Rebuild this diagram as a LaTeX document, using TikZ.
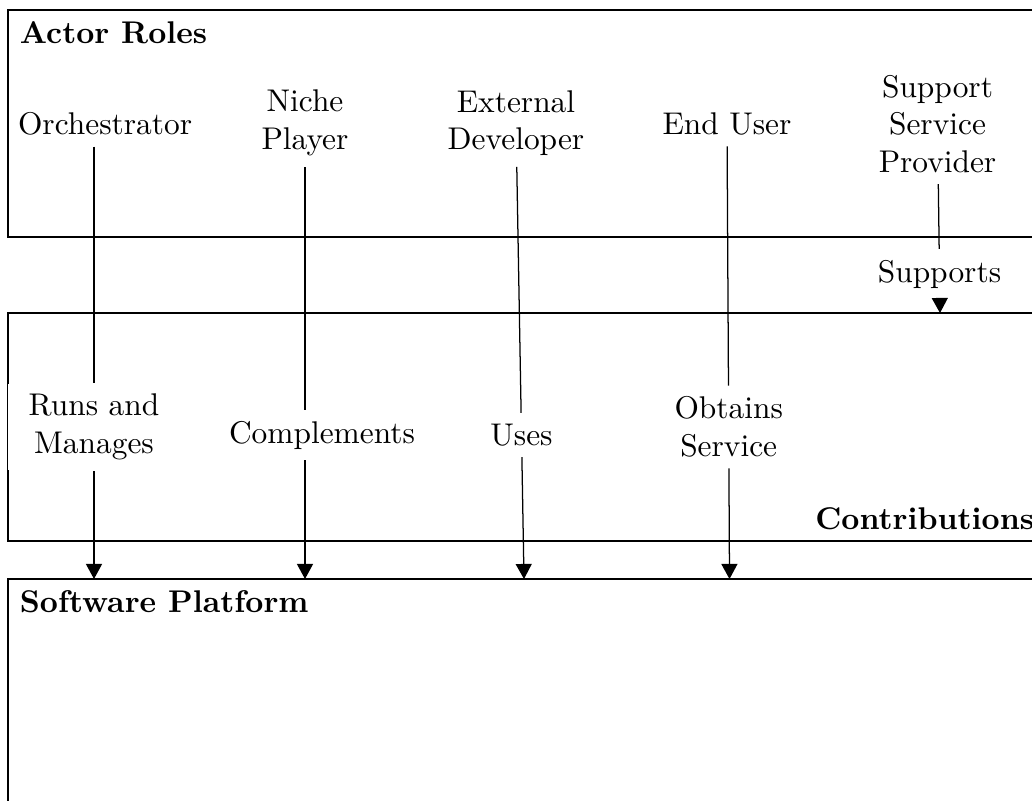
\documentclass[tikz,border=0pt]{standalone}
\usetikzlibrary{arrows.meta,fit}
\begin{document}
\begin{tikzpicture}[x=0.3185pt,y=-0.3185pt,
  role/.style={text width=1.7cm, align=center, inner sep=3.33pt},
  act/.style={text width=1.7cm, align=center, inner sep=3.33pt, fill=white},
  panel/.style={draw, inner sep=0pt},
  head/.style={font=\bfseries, inner xsep=3.8pt, inner ysep=3.6pt},
  flow/.style={-{Triangle[length=4.8pt,width=5.1pt]}}]
\useasboundingbox (0,0) rectangle (1032,800);

% the three horizontal layers
\coordinate (a1) at (8,10);   \coordinate (a2) at (1046,237);
\coordinate (b1) at (8,313);  \coordinate (b2) at (1046,541);
\coordinate (c1) at (8,579);  \coordinate (c2) at (1046,830);
\node[panel, fit=(a1)(a2)] (roles) {};
\node[panel, fit=(b1)(b2)] (contrib) {};
\node[panel, fit=(c1)(c2)] (platform) {};

\node[head, anchor=north west] (rolesT) at (roles.north west) {Actor Roles};
\node[head, anchor=south east] (contribT) at (contrib.south east) {Contributions};
\node[head, anchor=north west] (platT) at (platform.north west) {Software Platform};

% actors
\node[role] (orch)  at (94,124)    {Orchestrator};
\node[role] (niche) at (305,123)   {Niche Player};
\node[role] (dev)   at (516,123)   {External Developer};
\node[role] (user)  at (727,124)   {End User};
\node[role] (ssp)   at (937.5,124) {Support Service Provider};

% contributions
\node[act] (runs)  at (94,427)    {Runs and Manages};
\node[act] (compl) at (305,435)   {Complements};
\node[act] (uses)  at (521.5,435) {Uses};
\node[act] (obt)   at (728.7,427) {Obtains Service};
\node[act] (supp)  at (939.5,274) {Supports};

% arrow targets
\coordinate (t1) at (94,579);
\coordinate (t2) at (305,579);
\coordinate (t3) at (524,579);
\coordinate (t4) at (729.5,579);
\coordinate (t5) at (940,313);

\draw (orch)  -- (runs);  \draw[flow] (runs)  -- (t1);
\draw (niche) -- (compl); \draw[flow] (compl) -- (t2);
\draw (dev)   -- (uses);  \draw[flow] (uses)  -- (t3);
\draw (user)  -- (obt);   \draw[flow] (obt)   -- (t4);
\draw (ssp)   -- (supp);  \draw[flow] (supp)  -- (t5);
\end{tikzpicture}
\end{document}
